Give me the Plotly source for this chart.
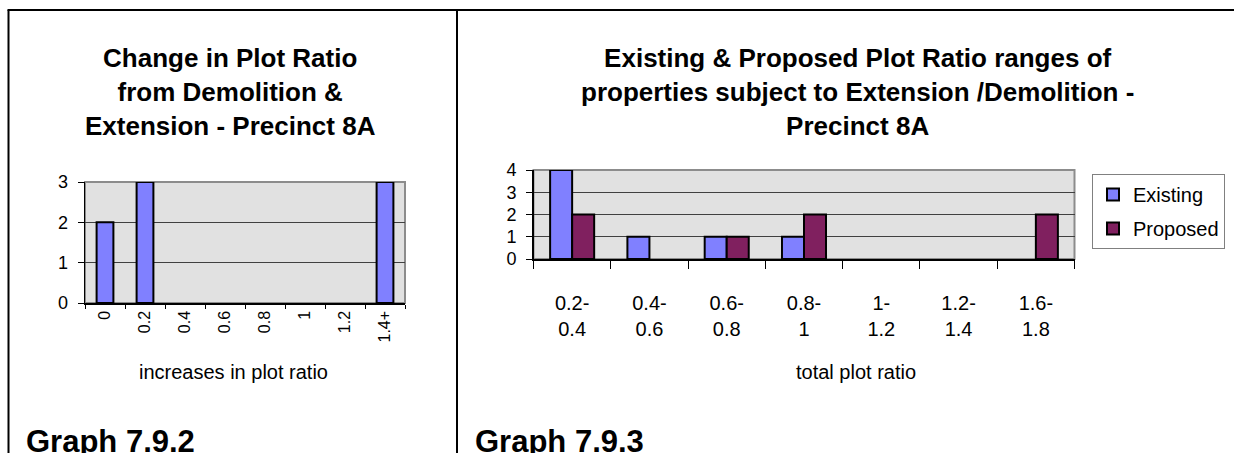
import plotly.graph_objects as go

# ---------------- data ----------------
left_title = "Change in Plot Ratio<br>from Demolition &<br>Extension - Precinct 8A"
left_categories = ["0", "0.2", "0.4", "0.6", "0.8", "1", "1.2", "1.4+"]
left_values = [2, 3, 0, 0, 0, 0, 0, 3]
left_xlabel = "increases in plot ratio"
left_caption = "Graph 7.9.2"

right_title = ("Existing & Proposed Plot Ratio ranges of<br>"
               "properties subject to Extension /Demolition -<br>Precinct 8A")
right_categories = ["0.2-<br>0.4", "0.4-<br>0.6", "0.6-<br>0.8", "0.8-<br>1",
                    "1-<br>1.2", "1.2-<br>1.4", "1.6-<br>1.8"]
existing_values = [4, 1, 1, 1, 0, 0, 0]
proposed_values = [2, 0, 1, 2, 0, 0, 2]
right_xlabel = "total plot ratio"
right_caption = "Graph 7.9.3"

# ---------------- layout helpers ----------------
W, H = 1234, 453
FONT = "Arial, Liberation Sans, sans-serif"


def fx(px):
    return px / W


def fy(py):
    return 1 - py / H


def hide_zero(vals):
    # Excel draws nothing for empty (zero) categories
    return [v if v else None for v in vals]


BLUE = "#8080ff"
PLUM = "#80205f"

fig = go.Figure()

fig.add_trace(go.Bar(
    x=left_categories, y=hide_zero(left_values), xaxis="x", yaxis="y",
    width=0.42, marker=dict(color=BLUE, line=dict(color="black", width=2)),
    showlegend=False,
))
fig.add_trace(go.Bar(
    x=right_categories, y=hide_zero(existing_values), xaxis="x2", yaxis="y2",
    name="Existing", legendgroup="a",
    marker=dict(color=BLUE, line=dict(color="black", width=2)),
))
fig.add_trace(go.Bar(
    x=right_categories, y=hide_zero(proposed_values), xaxis="x2", yaxis="y2",
    name="Proposed", legendgroup="b",
    marker=dict(color=PLUM, line=dict(color="black", width=2)),
))

common_x = dict(type="category", showline=True, linecolor="black", linewidth=1.5,
                ticks="outside", tickson="boundaries", tickcolor="black",
                ticklen=6, tickwidth=1, showgrid=False, zeroline=False,
                fixedrange=True, automargin=False)
common_y = dict(showline=True, linecolor="black", linewidth=1.5,
                ticks="outside", tickcolor="black", ticklen=6, tickwidth=1,
                showgrid=True, gridcolor="#404040", gridwidth=1,
                zeroline=False, dtick=1, fixedrange=True, automargin=False)
# companion axes that draw the inner half of Excel's "cross" category ticks
inner_x = dict(type="linear", tick0=-0.5, dtick=1, ticks="inside",
               tickcolor="black", tickwidth=1, showticklabels=False,
               showgrid=False, zeroline=False, showline=False,
               fixedrange=True, automargin=False)

fig.update_layout(
    template="none",
    width=W, height=H, autosize=False,
    margin=dict(l=0, r=0, t=0, b=0, pad=0, autoexpand=False),
    paper_bgcolor="white",
    plot_bgcolor="#e1e1e1",
    font=dict(family=FONT, color="black"),
    barmode="group",
    bargap=0.43,
    bargroupgap=0,
    xaxis=dict(common_x, domain=[fx(85), fx(405)], anchor="y",
               tickangle=-90, tickfont=dict(size=16), ticklen=4,
               range=[-0.5, 7.5]),
    yaxis=dict(common_y, domain=[fy(303), fy(182)], anchor="x",
               range=[0, 3], tickfont=dict(size=18), ticklabelstandoff=6),
    xaxis2=dict(common_x, domain=[fx(533.5), fx(1074.5)], anchor="y2",
                tickangle=0, tickfont=dict(size=20), range=[-0.5, 6.5],
                ticklen=8, ticklabelstandoff=25),
    yaxis2=dict(common_y, domain=[fy(259), fy(170)], anchor="x2",
                range=[0, 4], tickfont=dict(size=18), ticklabelstandoff=6),
    xaxis3=dict(inner_x, overlaying="x", anchor="y", range=[-0.5, 7.5],
                ticklen=5),
    xaxis4=dict(inner_x, overlaying="x2", anchor="y2", range=[-0.5, 6.5],
                ticklen=6),
    legend=dict(x=fx(1092), y=fy(174), xanchor="left", yanchor="top",
                bgcolor="white", bordercolor="#808080", borderwidth=1,
                font=dict(size=20, family=FONT), tracegroupgap=5,
                itemwidth=30),
)

shapes = []
# plot area frames (gray top/right border)
for xr, yr in (("x domain", "y domain"), ("x2 domain", "y2 domain")):
    shapes.append(dict(type="rect", xref=xr, yref=yr, x0=0, x1=1, y0=0, y1=1,
                       line=dict(color="#8c8c8c", width=2), layer="below"))
# document panel borders
shapes.append(dict(type="line", xref="paper", yref="paper", x0=fx(7.5), x1=1,
                   y0=fy(10), y1=fy(10), line=dict(color="black", width=2)))
shapes.append(dict(type="line", xref="paper", yref="paper", x0=fx(8.5), x1=fx(8.5),
                   y0=fy(10), y1=0, line=dict(color="black", width=2)))
shapes.append(dict(type="line", xref="paper", yref="paper", x0=fx(457), x1=fx(457),
                   y0=fy(10), y1=0, line=dict(color="black", width=2)))
fig.update_layout(shapes=shapes)

ann = []
ann.append(dict(text="<b>" + left_title + "</b>", x=fx(230), y=fy(92),
                xref="paper", yref="paper", showarrow=False,
                xanchor="center", yanchor="middle",
                font=dict(size=26, family=FONT)))
ann.append(dict(text="<b>" + right_title + "</b>", x=fx(857), y=fy(92),
                xref="paper", yref="paper", showarrow=False,
                xanchor="center", yanchor="middle",
                font=dict(size=26, family=FONT)))
ann.append(dict(text=left_xlabel, x=fx(233), y=fy(372), xref="paper", yref="paper",
                showarrow=False, xanchor="center", yanchor="middle",
                font=dict(size=20, family=FONT)))
ann.append(dict(text=right_xlabel, x=fx(856), y=fy(372), xref="paper", yref="paper",
                showarrow=False, xanchor="center", yanchor="middle",
                font=dict(size=20, family=FONT)))
ann.append(dict(text="<b>" + left_caption + "</b>", x=fx(24), y=fy(441),
                xref="paper", yref="paper", showarrow=False,
                xanchor="left", yanchor="middle",
                font=dict(size=31, family=FONT)))
ann.append(dict(text="<b>" + right_caption + "</b>", x=fx(473), y=fy(441),
                xref="paper", yref="paper", showarrow=False,
                xanchor="left", yanchor="middle",
                font=dict(size=31, family=FONT)))
fig.update_layout(annotations=ann)

fig.write_html("out.html",
               config={"displayModeBar": False, "staticPlot": True},
               post_script="document.body.style.margin='0';")
